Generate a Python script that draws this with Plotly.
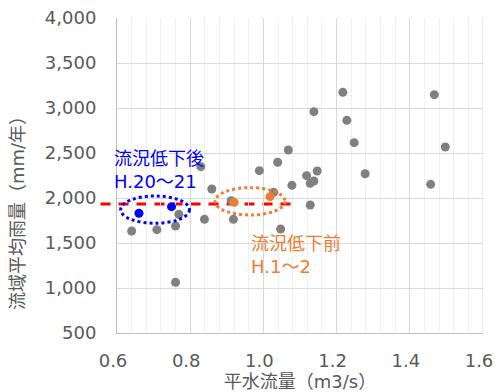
import plotly.graph_objects as go

# ---- data ----
flow_all = [0.640, 0.709, 0.760, 0.760, 0.769, 0.829, 0.859, 0.839, 0.912, 0.918,
            0.989, 1.039, 1.028, 1.047, 1.068, 1.078, 1.118, 1.128, 1.138, 1.147,
            1.128, 1.138, 1.217, 1.228, 1.248, 1.278, 1.457, 1.467, 1.497]
rain_all = [1633, 1648, 1689, 1063, 1819, 2348, 2100, 1763, 1970, 1763,
            2304, 2397, 2063, 1656, 2533, 2141, 2248, 2163, 2189, 2300,
            1922, 2959, 3174, 2863, 2615, 2270, 2152, 3148, 2567]

flow_before = [0.920, 1.018]   # H.1～2
rain_before = [1952, 2015]

flow_after = [0.660, 0.749]    # H.20～21
rain_after = [1830, 1904]

mean_rain = 1933

x_ticks = [0.6, 0.8, 1.0, 1.2, 1.4, 1.6]
y_ticks = [500, 1000, 1500, 2000, 2500, 3000, 3500, 4000]

X_MIN, X_MAX = 0.6, 1.6
Y_MIN, Y_MAX = 500, 4000

GRAY_TXT = "#595959"
FONT = "DejaVu Sans, Noto Sans CJK JP, sans-serif"
BLUE = "#0000FF"
ORANGE = "#ED7D31"

fig = go.Figure()

fig.add_trace(go.Scatter(x=flow_all, y=rain_all, mode="markers",
                         marker=dict(color="#808080", size=9), showlegend=False))
fig.add_trace(go.Scatter(x=flow_before, y=rain_before, mode="markers",
                         marker=dict(color=ORANGE, size=9), showlegend=False))
fig.add_trace(go.Scatter(x=flow_after, y=rain_after, mode="markers",
                         marker=dict(color=BLUE, size=9), showlegend=False))

def to_paper(v):
    return (v - X_MIN) / (X_MAX - X_MIN)

# mean line (extends slightly left of the axis as in the reference)
fig.add_shape(type="line", xref="paper", yref="y",
              x0=to_paper(0.555), x1=to_paper(1.09), y0=mean_rain, y1=mean_rain,
              line=dict(color="#FF0000", width=3, dash="10px,8px"), layer="between")

# right border gridline at x = 1.6
fig.add_shape(type="line", xref="x", yref="paper", x0=X_MAX, x1=X_MAX, y0=0, y1=1,
              line=dict(color="#D9D9D9", width=1), layer="below")

# ellipses
fig.add_shape(type="circle", xref="x", yref="y",
              x0=0.610, x1=0.798, y0=1719, y1=2022,
              line=dict(color=BLUE, width=3, dash="dot"))
fig.add_shape(type="circle", xref="x", yref="y",
              x0=0.868, x1=1.059, y0=1811, y1=2115,
              line=dict(color=ORANGE, width=3, dash="dot"))

fig.add_annotation(x=to_paper(0.587), y=2311, xref="paper", yref="y", xanchor="left",
                   yanchor="middle", align="left", showarrow=False,
                   text="流況低下後<br>H.20～21",
                   font=dict(family=FONT, size=18, color=BLUE))
fig.add_annotation(x=to_paper(0.962), y=1367, xref="paper", yref="y", xanchor="left",
                   yanchor="middle", align="left", showarrow=False,
                   text="流況低下前<br>H.1～2",
                   font=dict(family=FONT, size=18, color=ORANGE))

# y-axis title (placed lower than centre, as in the reference)
fig.add_annotation(x=-0.27, y=0.394, xref="paper", yref="paper", xanchor="center",
                   yanchor="middle", textangle=-90, showarrow=False,
                   text="流域平均雨量（mm/年）",
                   font=dict(family=FONT, size=18, color=GRAY_TXT))

fig.update_layout(
    width=495, height=392,
    margin=dict(l=117, r=12, t=18, b=59, autoexpand=False),
    paper_bgcolor="white", plot_bgcolor="white",
    font=dict(family=FONT, size=18, color=GRAY_TXT),
    showlegend=False,
)
fig.update_xaxes(range=[X_MIN, X_MAX], tickvals=x_ticks, tickformat=".1f",
                 ticklabeloverflow="allow", ticklabelshift=-4,
                 showgrid=True, gridcolor="#D9D9D9", gridwidth=1,
                 minor=dict(dtick=0.04, tick0=0.6, showgrid=True, gridcolor="#F0F0F0", gridwidth=1),
                 showline=True, linecolor="#BFBFBF", linewidth=1,
                 ticks="outside", ticklen=11, tickcolor="rgba(0,0,0,0)",
                 zeroline=False, automargin=True,
                 title=dict(text="平水流量（m3/s）", standoff=0,
                            font=dict(family=FONT, size=18, color=GRAY_TXT)))
fig.update_yaxes(range=[Y_MIN, Y_MAX], tickvals=y_ticks, tickformat=",",
                 ticklabeloverflow="allow",
                 showgrid=True, gridcolor="#D9D9D9", gridwidth=1,
                 showline=True, linecolor="#BFBFBF", linewidth=1,
                 ticks="outside", ticklen=16, tickcolor="rgba(0,0,0,0)",
                 zeroline=False, automargin=False)

fig.write_html("out.html")
